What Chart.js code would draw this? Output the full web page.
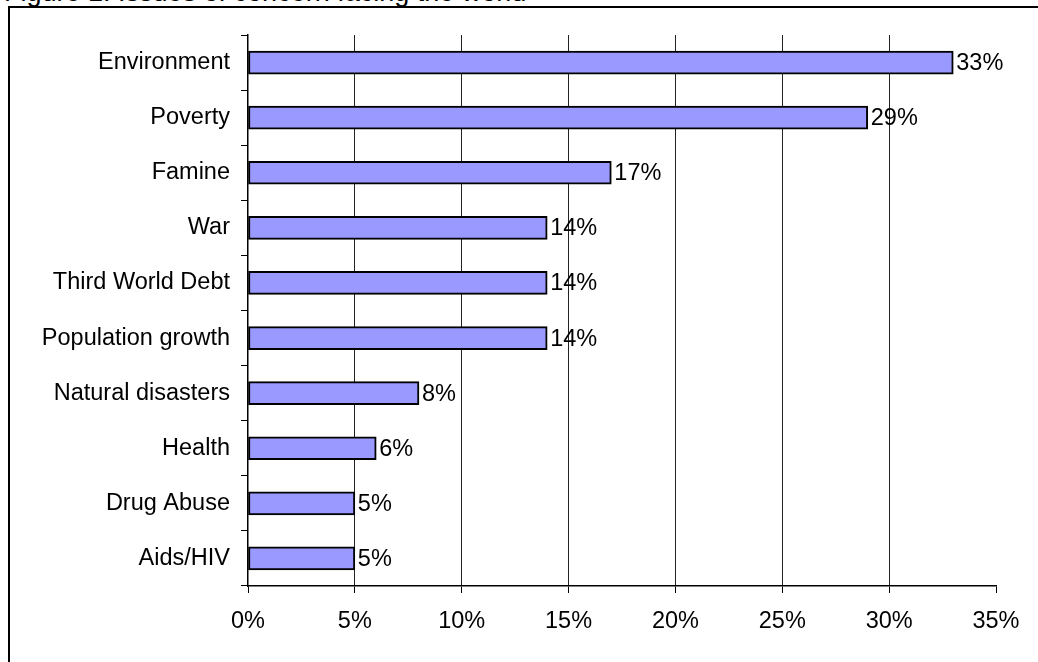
<!DOCTYPE html>
<html>
<head>
<meta charset="utf-8">
<script src="https://cdn.jsdelivr.net/npm/chart.js@4/dist/chart.umd.min.js"></script>
<style>
  html, body { margin: 0; padding: 0; background: #fff; overflow: hidden; }
  #wrap { position: relative; width: 1038px; height: 662px; overflow: hidden; }
  #title { position: absolute; left: 4px; top: -22px; font: 27px "Liberation Sans", Arial, sans-serif;
           line-height: 28px; color: #000; white-space: nowrap; }
  #frame { position: absolute; left: 8px; top: 6px; width: 1100px; height: 800px;
           border: 2px solid #000; box-sizing: border-box; }
  #chart { position: absolute; left: 0; top: 0; }
</style>
</head>
<body>
<div id="wrap">
  <div id="title">Figure 1: Issues of concern facing the world</div>
  <div id="frame"></div>
  <canvas id="chart" width="1038" height="662"></canvas>
</div>
<script>
const categories = ["Environment", "Poverty", "Famine", "War", "Third World Debt",
    "Population growth", "Natural disasters", "Health", "Drug Abuse", "Aids/HIV"];
const percentages = [33, 29, 17, 14, 14, 14, 8, 6, 5, 5];
const xTicks = [0, 5, 10, 15, 20, 25, 30, 35];

const FONT = "'Liberation Sans', Arial, sans-serif";

// value labels at the end of each bar
const barLabels = {
    id: 'barLabels',
    afterDatasetsDraw(chart) {
        let ctx = chart.ctx;
        let meta = chart.getDatasetMeta(0);
        ctx.save();
        ctx.font = "23.5px " + FONT;
        ctx.fillStyle = "#000";
        ctx.textAlign = "left";
        ctx.textBaseline = "middle";
        meta.data.forEach(function(bar, i) {
            ctx.fillText(percentages[i] + "%", bar.x + 3, bar.y + 1);
        });
        ctx.restore();
    }
};

let ctx = document.getElementById("chart");
let myChart = new Chart(ctx, {
    type: 'bar',
    data: {
        labels: categories,
        datasets: [{
            data: percentages,
            backgroundColor: '#9999FF',
            borderColor: '#000',
            borderWidth: 2,
            borderSkipped: false,
            barThickness: 23
        }]
    },
    plugins: [barLabels],
    options: {
        indexAxis: 'y',
        responsive: false,
        animation: false,
        layout: { padding: { left: 0, right: 42, top: 35, bottom: 0 } },
        plugins: {
            legend: { display: false },
            tooltip: { enabled: false }
        },
        scales: {
            x: {
                min: 0,
                max: 35,
                afterBuildTicks: function(scale) {
                    scale.ticks = xTicks.map(v => ({ value: v }));
                },
                afterFit: function(scale) { scale.height = 76; },
                border: { color: '#000', width: 1.5 },
                grid: {
                    color: c => (c.tick && c.tick.value > 0 && c.tick.value < 35) ? '#222' : 'rgba(0,0,0,0)',
                    lineWidth: 1,
                    tickColor: '#000',
                    tickLength: 7
                },
                ticks: {
                    color: '#000',
                    padding: 14,
                    font: { family: FONT, size: 23.5 },
                    callback: v => v + "%"
                }
            },
            y: {
                afterFit: function(scale) { scale.width = 248; },
                border: { color: '#000', width: 1.5 },
                grid: {
                    offset: true,
                    drawOnChartArea: false,
                    color: '#000',
                    tickColor: '#000',
                    tickLength: 7
                },
                ticks: {
                    color: '#000',
                    padding: 11,
                    font: { family: FONT, size: 23.5 }
                }
            }
        }
    }
});
</script>
</body>
</html>
